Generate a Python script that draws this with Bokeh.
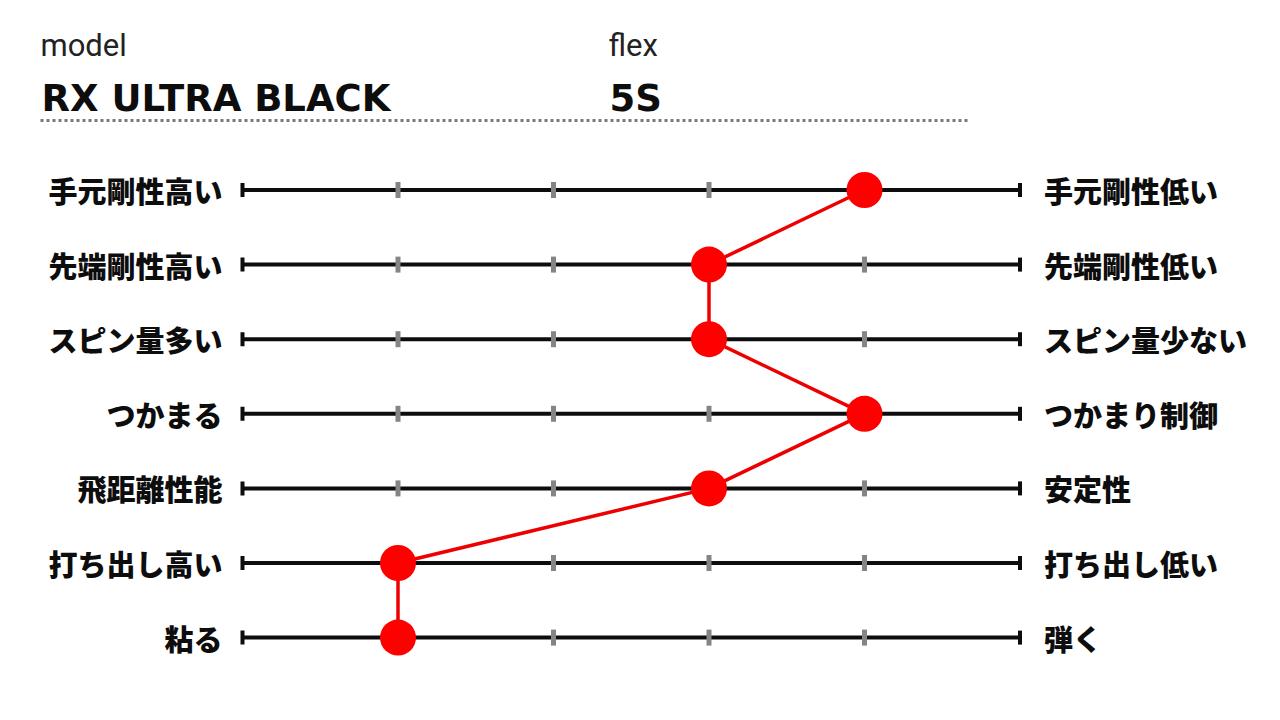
from bokeh.plotting import figure
from bokeh.models import Range1d, Label, ColumnDataSource
from bokeh.core.properties import value
from bokeh.embed import file_html
from bokeh.resources import INLINE

# --- data -------------------------------------------------------------
model_name = "RX ULTRA BLACK"
flex_name = "5S"
left_labels = ["手元剛性高い", "先端剛性高い", "スピン量多い", "つかまる", "飛距離性能", "打ち出し高い", "粘る"]
right_labels = ["手元剛性低い", "先端剛性低い", "スピン量少ない", "つかまり制御", "安定性", "打ち出し低い", "弾く"]
scores = [4, 3, 3, 4, 3, 1, 1]          # position on the 0..5 scale
scale_ticks = [1, 2, 3, 4]
scale_min, scale_max = 0, 5

# --- layout helpers ---------------------------------------------------
W, H = 1280, 720
X0_PX, STEP_X = 242.0, 155.5            # pixel of scale 0, pixels per scale step
Y0_PX, STEP_Y = 189.5, 74.6             # pixel of first row, pixels per row

rows = list(range(len(left_labels)))

x_start = -X0_PX / STEP_X
x_end = (W - X0_PX) / STEP_X
y_top = -Y0_PX / STEP_Y
y_bottom = (H - Y0_PX) / STEP_Y

p = figure(width=W, height=H, output_backend="svg", toolbar_location=None,
           x_range=Range1d(x_start, x_end), y_range=Range1d(y_bottom, y_top),
           min_border=0)
p.axis.visible = False
p.grid.visible = False
p.outline_line_color = None
p.background_fill_color = "white"
p.border_fill_color = "white"


def px_x(px):
    return (px - X0_PX) / STEP_X


def px_y(py):
    return (py - Y0_PX) / STEP_Y


# dotted separator under the header
p.segment(x0=[px_x(40)], y0=[px_y(120)], x1=[px_x(969)], y1=[px_y(120)],
          line_color="#7a7a7a", line_width=3, line_dash="3 3")

# scale bars
p.segment(x0=[scale_min] * len(rows), y0=rows, x1=[scale_max] * len(rows), y1=rows,
          line_color="#0d0d0d", line_width=4)

tick_x = [t for t in scale_ticks for _ in rows]
tick_y = [r for _ in scale_ticks for r in rows]
p.rect(x=tick_x, y=tick_y, width=5, height=16, width_units="screen", height_units="screen",
       fill_color="#858585", line_color=None)

cap_x = [scale_min] * len(rows) + [scale_max] * len(rows)
cap_y = rows + rows
p.rect(x=cap_x, y=cap_y, width=4, height=14, width_units="screen", height_units="screen",
       fill_color="#0d0d0d", line_color=None)

# score profile
src = ColumnDataSource(dict(x=scores, y=rows))
p.line("x", "y", source=src, line_color="#ee0000", line_width=3.5)
p.scatter("x", "y", source=src, size=36, fill_color="#ff0000", line_color=None)

# row labels
jp_font = value("'Noto Sans CJK JP Black', 'Noto Sans CJK JP'")
p.text(x=[scale_min] * len(rows), y=rows, text=left_labels, x_offset=-20,
       text_align="right", text_baseline="middle", text_font=jp_font,
       text_font_style="bold", text_font_size="29px", text_color="#0d0d0d")
p.text(x=[scale_max] * len(rows), y=rows, text=right_labels, x_offset=24,
       text_align="left", text_baseline="middle", text_font=jp_font,
       text_font_style="bold", text_font_size="29px", text_color="#0d0d0d")

# header
def header(text, x, y, size, bold):
    p.add_layout(Label(x=x, y=H - y, x_units="screen", y_units="screen", text=text,
                       text_font="DejaVu Sans" if bold else "Roboto",
                       text_font_style="bold" if bold else "normal",
                       text_font_size=size, text_color="#0d0d0d" if bold else "#222222",
                       text_baseline="alphabetic", text_align="left"))


header("model", 40, 45, "31px", False)
header(model_name, 41, 98, "37px", True)
header("flex", 608, 45, "31px", False)
header(flex_name, 609, 98, "37px", True)

open("out.html", "w").write(file_html(p, INLINE))
